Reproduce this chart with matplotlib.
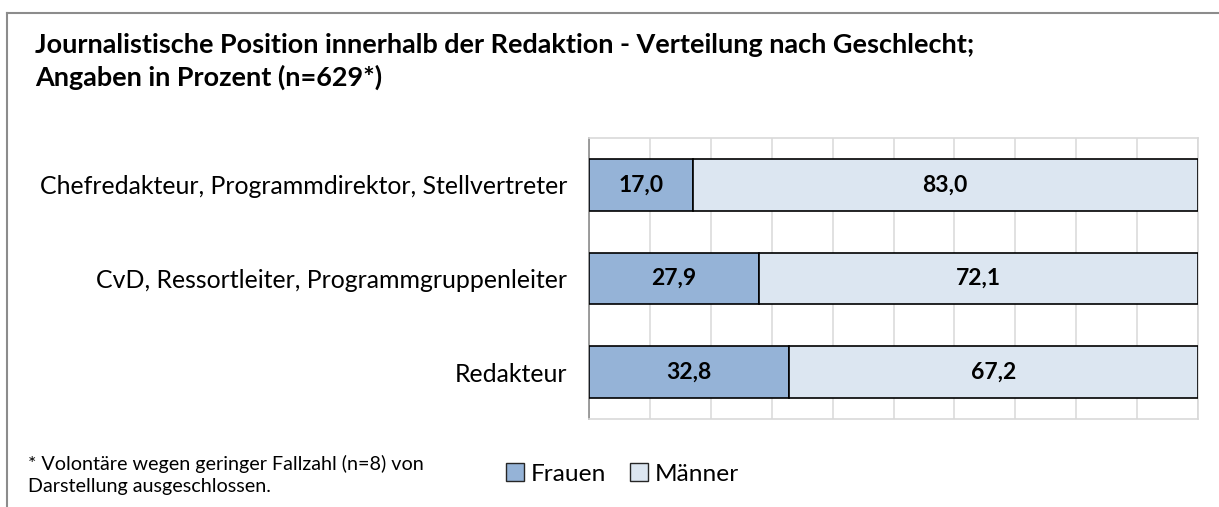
import matplotlib.pyplot as plt
from matplotlib.patches import Patch
from matplotlib.lines import Line2D

# Daten
kategorien = ["Chefredakteur, Programmdirektor, Stellvertreter",
              "CvD, Ressortleiter, Programmgruppenleiter",
              "Redakteur"]
frauen = [17.0, 27.9, 32.8]
maenner = [83.0, 72.1, 67.2]
serien = ["Frauen", "Männer"]
titel = ["Journalistische Position innerhalb der Redaktion - Verteilung nach Geschlecht;",
         "Angaben in Prozent (n=629*)"]
fussnote = ["* Volontäre wegen geringer Fallzahl (n=8) von",
            "Darstellung ausgeschlossen."]

farbe_frauen = "#95B3D7"
farbe_maenner = "#DCE6F1"

plt.rcParams['font.family'] = ['Lato', 'DejaVu Sans']

W, H = 1219, 507
fig = plt.figure(figsize=(W / 100, H / 100), dpi=100)
r = fig.canvas.get_renderer()


def px(x, y):
    # Pixelkoordinaten (von oben links) -> Figurkoordinaten
    return x / W, 1 - y / H


def anpassen(t, breite):
    # Schriftgroesse so setzen, dass der Text die gewuenschte Breite hat
    b = t.get_window_extent(r).width
    t.set_fontsize(t.get_fontsize() * breite / b)
    return t.get_fontsize()


# Rahmen (oben und links)
fig.add_artist(Line2D([7 / W, 7 / W], [0, 1 - 13 / H], color="#8C8C8C", lw=1.5,
                      transform=fig.transFigure))
fig.add_artist(Line2D([7 / W, 1], [1 - 13 / H, 1 - 13 / H], color="#8C8C8C", lw=1.5,
                      transform=fig.transFigure))

# Achse
links, rechts, oben, unten = 589, 1198, 138, 419
ax = fig.add_axes([links / W, 1 - unten / H, (rechts - links) / W, (unten - oben) / H])

y = list(range(len(kategorien)))
ax.barh(y, frauen, height=0.555, color=farbe_frauen, edgecolor="black", linewidth=1.2, zorder=3)
ax.barh(y, maenner, left=frauen, height=0.555, color=farbe_maenner, edgecolor="black",
        linewidth=1.2, zorder=3)

werte_texte = []
for i in y:
    werte_texte.append(ax.text(frauen[i] / 2, i, f"{frauen[i]:.1f}".replace(".", ","),
                               ha="center", va="center", fontsize=12,
                               fontweight="bold", zorder=4))
    werte_texte.append(ax.text(frauen[i] + maenner[i] / 2, i, f"{maenner[i]:.1f}".replace(".", ","),
                               ha="center", va="center", fontsize=12,
                               fontweight="bold", zorder=4))
gr = anpassen(werte_texte[0], 45)
for t in werte_texte:
    t.set_fontsize(gr)

ax.set_xlim(0, 100)
ax.set_ylim(len(kategorien) - 0.5, -0.5)
ax.set_xticks(range(0, 101, 10))
ax.xaxis.grid(True, color="#D9D9D9", linewidth=1.1, zorder=0)
ax.tick_params(axis="x", length=0, labelbottom=False)
ax.tick_params(axis="y", length=0, pad=22 * 0.72)
ax.set_yticks(y)
labels = ax.set_yticklabels(kategorien, fontsize=14)
fig.canvas.draw()
gr = anpassen(labels[0], 530)
for t in labels:
    t.set_fontsize(gr)
for s in ["top", "bottom", "right"]:
    ax.spines[s].set_color("#D9D9D9")
    ax.spines[s].set_linewidth(1.2)
ax.spines["left"].set_color("#8C8C8C")
ax.spines["left"].set_linewidth(1.2)

# Titel
t1 = fig.text(*px(35, 53), titel[0], fontsize=15, fontweight="bold", va="baseline", ha="left")
gr = anpassen(t1, 943)
fig.text(*px(35, 86), titel[1], fontsize=gr, fontweight="bold", va="baseline", ha="left")

# Fussnote
f1 = fig.text(*px(28, 470), fussnote[0], fontsize=11, va="baseline", ha="left")
gr = anpassen(f1, 395)
fig.text(*px(28, 492), fussnote[1], fontsize=gr, va="baseline", ha="left")

# Legende
tmp = fig.text(0, 0, serien[0], fontsize=14)
gr = anpassen(tmp, 75)
tmp.remove()
handles = [Patch(facecolor=farbe_frauen, edgecolor="#262626", label=serien[0]),
           Patch(facecolor=farbe_maenner, edgecolor="#262626", label=serien[1])]
fig.legend(handles=handles, loc="center left", bbox_to_anchor=px(506, 474),
           ncol=2, frameon=False, fontsize=gr, handlelength=0.75, handleheight=0.75,
           handletextpad=0.25, columnspacing=1.0, borderaxespad=0, borderpad=0)

fig.savefig("out.png", dpi=100)
